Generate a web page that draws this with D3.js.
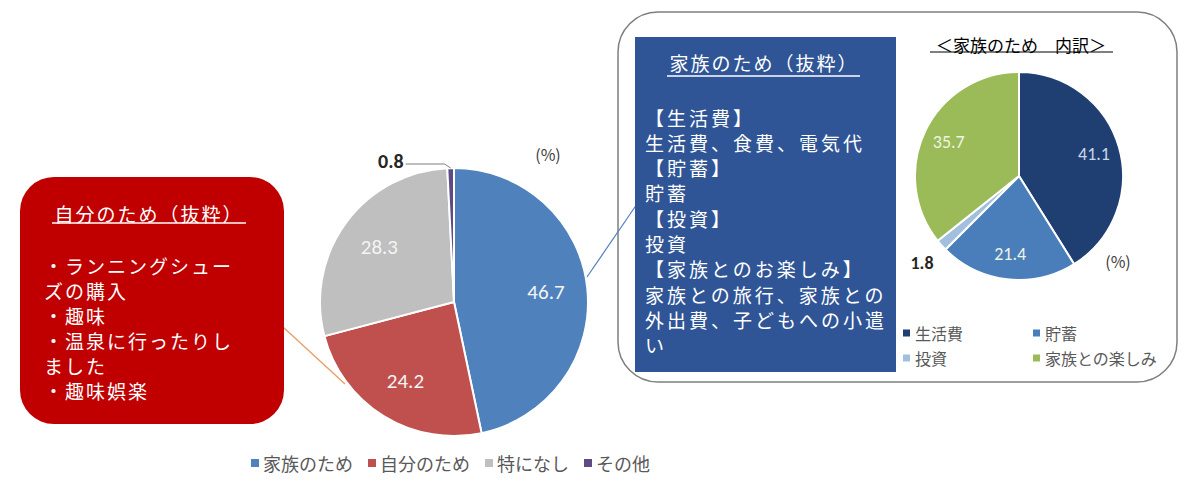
<!DOCTYPE html>
<html>
<head>
<meta charset="utf-8">
<script src="https://cdn.jsdelivr.net/npm/d3@7"></script>
<style>
  body { margin: 0; background: #fff; }
  svg { display: block; font-family: "Noto Sans CJK JP", "Noto Sans", sans-serif; }
</style>
</head>
<body>
<svg id="chart" width="1200" height="491"></svg>
<script>
// main pie
var mainLabels = ["家族のため", "自分のため", "特になし", "その他"];
var mainValues = [46.7, 24.2, 28.3, 0.8];
var mainColors = ["#4f81bd", "#c0504d", "#bfbfbf", "#5f4a86"];

// breakdown of 家族のため
var subLabels = ["生活費", "貯蓄", "投資", "家族との楽しみ"];
var subValues = [41.1, 21.4, 1.8, 35.7];
var subColors = ["#1f3f73", "#4a7ebb", "#a3bfdf", "#9bbb59"];

var selfTitle = "自分のため（抜粋）";
var selfLines = ["・ランニングシュー", "ズの購入", "・趣味", "・温泉に行ったりし", "ました", "・趣味娯楽"];

var familyTitle = "家族のため（抜粋）";
var familyLines = ["【生活費】", "生活費、食費、電気代", "【貯蓄】", "貯蓄", "【投資】", "投資",
  "【家族とのお楽しみ】", "家族との旅行、家族との", "外出費、子どもへの小遣", "い"];

var subTitle = "＜家族のため　内訳＞";

var svg = d3.select("#chart");

// ---- outer rounded frame on the right
svg.append("rect")
  .attr("x", 618).attr("y", 12).attr("width", 559).attr("height", 370)
  .attr("rx", 40).attr("ry", 40)
  .attr("fill", "#fff").attr("stroke", "#7f7f7f").attr("stroke-width", 1.5);

// ---- connector lines
svg.append("line")
  .attr("x1", 587).attr("y1", 277).attr("x2", 637).attr("y2", 204)
  .attr("stroke", "#4f81bd").attr("stroke-width", 1.2);
svg.append("line")
  .attr("x1", 283).attr("y1", 327).attr("x2", 345).attr("y2", 384)
  .attr("stroke", "#eba16c").attr("stroke-width", 1.5);

// ---- red box
var red = svg.append("g");
red.append("rect")
  .attr("x", 20).attr("y", 177).attr("width", 264).attr("height", 247)
  .attr("rx", 34).attr("ry", 34).attr("fill", "#c00000");
red.append("text")
  .attr("x", 149).attr("y", 213).attr("text-anchor", "middle")
  .attr("dominant-baseline", "central")
  .attr("fill", "#fff").attr("font-size", 19).attr("letter-spacing", 2).text(selfTitle);
red.append("line")
  .attr("x1", 52).attr("x2", 246).attr("y1", 223).attr("y2", 223)
  .attr("stroke", "#fff").attr("stroke-width", 1.3);
red.selectAll("text.l").data(selfLines).enter()
  .append("text").attr("class", "l")
  .attr("x", 44).attr("y", function(d, i) { return 265 + i * 25; })
  .attr("dominant-baseline", "central")
  .attr("fill", "#fff").attr("font-size", 19).attr("letter-spacing", 2)
  .text(function(d) { return d; });

// ---- blue box
var blue = svg.append("g");
blue.append("rect")
  .attr("x", 635).attr("y", 37).attr("width", 261).attr("height", 335)
  .attr("fill", "#2f5597");
blue.append("text")
  .attr("x", 764).attr("y", 62).attr("text-anchor", "middle")
  .attr("dominant-baseline", "central")
  .attr("fill", "#fff").attr("font-size", 19).attr("letter-spacing", 2).text(familyTitle);
blue.append("line")
  .attr("x1", 667).attr("x2", 860).attr("y1", 76).attr("y2", 76)
  .attr("stroke", "#fff").attr("stroke-width", 1.3);
blue.selectAll("text.l").data(familyLines).enter()
  .append("text").attr("class", "l")
  .attr("x", 645).attr("y", function(d, i) { return 117 + i * 25.3; })
  .attr("dominant-baseline", "central")
  .attr("fill", "#fff").attr("font-size", 19).attr("letter-spacing", 3)
  .text(function(d) { return d; });

// ---- main pie
var mcx = 454, mcy = 302, mr = 134;
var pie = d3.pie().sort(null).value(function(d) { return d; });
var mainArcs = pie(mainValues);
var arc = d3.arc().innerRadius(0).outerRadius(mr);
var labelArc = d3.arc().innerRadius(mr * 0.69).outerRadius(mr * 0.69);

var mg = svg.append("g").attr("transform", "translate(" + mcx + "," + mcy + ")");
mg.selectAll("path").data(mainArcs).enter()
  .append("path")
  .attr("d", arc)
  .attr("fill", function(d, i) { return mainColors[i]; })
  .attr("stroke", "#fff").attr("stroke-width", 2);

mg.selectAll("text.v").data(mainArcs.filter(function(d) { return d.value > 2; })).enter()
  .append("text").attr("class", "v")
  .attr("transform", function(d) { return "translate(" + labelArc.centroid(d) + ")"; })
  .attr("text-anchor", "middle").attr("dominant-baseline", "central")
  .attr("fill", "#f4f4f4").attr("font-size", 21)
  .attr("font-family", "Carlito, 'Liberation Sans', sans-serif")
  .text(function(d) { return d.value.toFixed(1); });

// small slice: label outside with leader
mainArcs.filter(function(d) { return d.value <= 2; }).forEach(function(d) {
  var a = (d.startAngle + d.endAngle) / 2;
  var px = Math.sin(a) * mr, py = -Math.cos(a) * mr;
  var ly = -mr - 4;
  mg.append("polyline")
    .attr("points", [[px, py], [px - 6, ly], [px - 45, ly]].join(" "))
    .attr("fill", "none").attr("stroke", "#7f7f7f").attr("stroke-width", 1);
  mg.append("text")
    .attr("x", px - 47).attr("y", ly - 3)
    .attr("text-anchor", "end").attr("dominant-baseline", "central")
    .attr("font-size", 20).attr("font-weight", "bold").attr("fill", "#262626")
    .attr("font-family", "Carlito, 'Liberation Sans', sans-serif")
    .text(d.value.toFixed(1));
});

svg.append("text")
  .attr("x", 548).attr("y", 154).attr("text-anchor", "middle")
  .attr("dominant-baseline", "central")
  .attr("font-size", 16).attr("fill", "#404040").text("(%)");

// main legend
var leg = svg.append("g").attr("transform", "translate(251,463)");
var lx = 0;
mainLabels.forEach(function(name, i) {
  var it = leg.append("g").attr("transform", "translate(" + lx + ",0)");
  it.append("rect").attr("x", 0).attr("y", -4).attr("width", 8).attr("height", 8)
    .attr("fill", mainColors[i]);
  var t = it.append("text").attr("x", 12).attr("y", 0)
    .attr("dominant-baseline", "central")
    .attr("font-size", 18).attr("fill", "#595959").text(name);
  lx += 12 + t.node().getComputedTextLength() + 15;
});

// ---- breakdown pie
var scx = 1019, scy = 176, sr = 104;
var subArcs = pie(subValues);
var sarc = d3.arc().innerRadius(0).outerRadius(sr);
var slabel = d3.arc().innerRadius(sr * 0.75).outerRadius(sr * 0.75);
var soutside = d3.arc().innerRadius(sr * 1.25).outerRadius(sr * 1.25);

svg.append("text")
  .attr("x", scx + 2).attr("y", 44).attr("text-anchor", "middle")
  .attr("dominant-baseline", "central")
  .attr("font-size", 17).attr("fill", "#000").text(subTitle);
svg.append("line")
  .attr("x1", 930).attr("x2", 1113).attr("y1", 52).attr("y2", 52)
  .attr("stroke", "#000").attr("stroke-width", 1);

var sg = svg.append("g").attr("transform", "translate(" + scx + "," + scy + ")");
sg.selectAll("path").data(subArcs).enter()
  .append("path")
  .attr("d", sarc)
  .attr("fill", function(d, i) { return subColors[i]; })
  .attr("stroke", "#fff").attr("stroke-width", 2);

sg.selectAll("text.v").data(subArcs).enter()
  .append("text").attr("class", "v")
  .attr("transform", function(d) {
    var c = d.value > 2 ? slabel.centroid(d) : soutside.centroid(d);
    return "translate(" + c + ")";
  })
  .attr("text-anchor", "middle").attr("dominant-baseline", "central")
  .attr("font-family", "Carlito, 'Liberation Sans', sans-serif")
  .attr("font-size", 18)
  .attr("font-weight", function(d) { return d.value > 2 ? "normal" : "bold"; })
  .attr("fill", function(d, i) {
    if (d.value <= 2) return "#262626";
    return i === 0 ? "#c9d6ea" : "#eef3e4";
  })
  .text(function(d) { return d.value.toFixed(1); });

svg.append("text")
  .attr("x", 1118).attr("y", 261).attr("text-anchor", "middle")
  .attr("dominant-baseline", "central")
  .attr("font-size", 16).attr("fill", "#404040").text("(%)");

// breakdown legend, 2 columns
var sleg = svg.append("g");
subLabels.forEach(function(name, i) {
  var x = 903 + (i % 2) * 130, y = 333 + Math.floor(i / 2) * 25;
  sleg.append("rect").attr("x", x).attr("y", y - 3.5).attr("width", 7).attr("height", 7)
    .attr("fill", subColors[i]);
  sleg.append("text").attr("x", x + 12).attr("y", y)
    .attr("dominant-baseline", "central")
    .attr("font-size", 16).attr("fill", "#595959").text(name);
});
</script>
</body>
</html>
